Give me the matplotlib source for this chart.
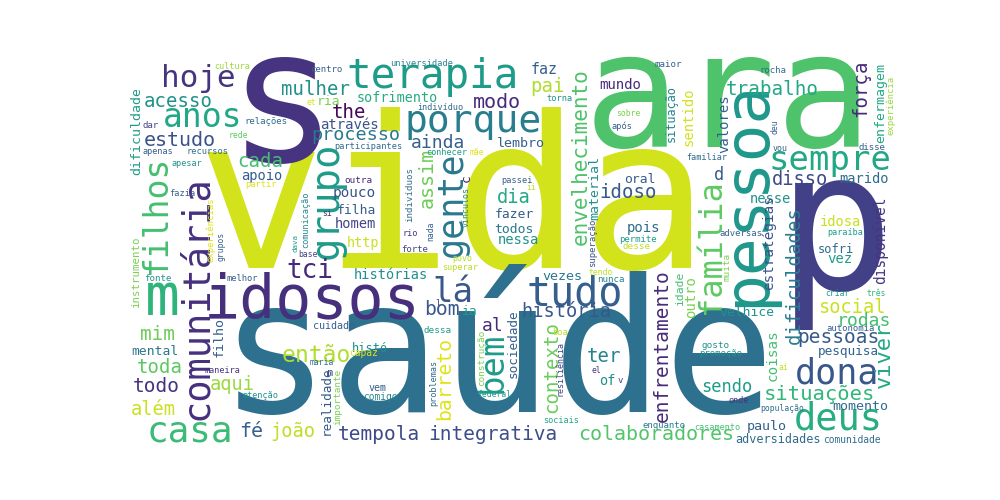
import matplotlib
matplotlib.use("Agg")
import matplotlib.pyplot as plt

# word -> weight (font size in px of the cloud)
words = ["vida", "saúde", "s", "ara", "p", "idosos", "pessoa", "m", "terapia", "porque",
         "comunitária", "grupo", "gente", "tudo", "lá", "filhos", "casa", "dona", "deus", "sempre",
         "família", "bem", "anos", "hoje", "tci", "então", "envelhecimento", "situações",
         "colaboradores", "integrativa", "tempola", "dificuldades", "enfrentamento", "contexto",
         "barreto", "trabalho", "idoso", "pessoas", "estudo", "mulher", "acesso", "the",
         "processo", "cada", "pai", "modo", "ainda", "dia", "disso", "força", "social", "rodas",
         "história", "bom", "al", "ter", "mim", "toda", "todo", "além", "aqui", "fé", "joão",
         "sendo", "viver",
         "assim", "lembro", "sofrimento", "através", "apoio", "pouco", "filha", "homem", "http",
         "histórias", "fazer", "todos", "nessa", "vezes", "faz", "mundo", "dificuldade",
         "instrumento", "mental", "filho", "realidade", "ria", "histó", "n", "ia", "sociedade",
         "oral", "pois", "material", "situação", "sentido", "valores", "d", "nesse",
         "estratégias", "marido", "enfermagem", "idosa", "disponível", "sofri", "vez", "idade",
         "outro", "velhice", "pesquisa", "coisas", "momento", "paulo", "adversidades", "of",
         "cuidado",
         "cultura", "centro", "et", "relações", "dar", "rede", "apenas", "recursos",
         "participantes", "apesar", "partir", "fazia", "outra", "si", "comunicação", "dava",
         "base", "experiências", "grupos", "fonte", "melhor", "maneira", "atenção", "importante",
         "maria", "capaz", "vem", "comigo", "universidade", "indivíduo", "torna", "mãe",
         "conhecer", "c", "passei", "ii", "indivíduos", "nada", "vínculos", "rio", "forte",
         "povo", "superar", "dessa", "construção", "problemas", "federal", "boa", "resiliência",
         "sociais", "el", "v", "tendo", "nunca", "superação", "sobre", "após", "maior", "rocha",
         "familiar", "deu", "vou", "disse", "experiência", "permite", "desse", "adversas",
         "muita", "paraíba", "criar", "três", "autonomia", "gosto", "promoção", "aí", "onde",
         "população", "enquanto", "casamento", "comunidade", "l"]

sizes = [213, 185, 185, 160, 195, 60, 63, 58, 41, 38,
         37, 39, 35, 40, 34, 33, 36, 35, 37, 34,
         32, 34, 33, 31, 26, 23, 21, 20.5,
         20, 19.5, 19.5, 19, 19.5, 19,
         19.7, 19.3, 19, 19.5, 20, 19, 19, 19,
         18.5, 19, 19, 20, 18, 18.8, 18.6, 19, 18.6, 18.2,
         18.6, 19.6, 18, 19, 19.4, 19, 19.5, 18.7, 18.7, 20, 18.7,
         17, 22,
         20, 13.4, 13.5, 14, 13.7, 14.4, 13, 13.7, 13.5,
         13.6, 13, 13, 13.8, 13.4, 15, 14, 13.3,
         10.7, 13, 13.4, 12.6, 13, 12, 11, 13, 12.8,
         13, 14, 13.3, 11.7, 13.9, 13.9, 17, 13.8,
         14.3, 13.7, 13.3, 13.8, 14.5, 12, 14, 11.4,
         14, 13, 12.7, 14.2, 13.4, 13.4, 11.7, 13.6,
         10,
         8.5, 9, 8, 9, 9, 8, 8.5, 8.7,
         8.7, 8.5, 8.8, 8.6, 9.3, 8, 8.5, 7.5,
         8, 9, 8, 9.2, 8.8, 8.5, 8.5, 9.3,
         8, 9.6, 10, 9.7, 8.6, 8.5, 8.6, 8,
         8.5, 13, 8.6, 8, 9.1, 8, 8.3, 8.5, 9,
         8.3, 8.5, 9.3, 9.3, 8.5, 8, 8.8, 8.4,
         8.5, 8, 9, 8, 9.2, 8.9, 8, 8.7, 9.2, 9,
         8.5, 8, 8.3, 9, 9, 9, 9.3, 8.9,
         9.3, 8.5, 8, 8, 8.9, 9.3, 9, 8, 8.5,
         8, 9, 8.5, 9.6, 9]

# placement of each word in the 1000x500 picture:
# x, y (baseline point), rotation, viridis shade
placement = {
    "vida": (453, 268, 0, .93), "saúde": (497, 412, 0, .37), "s": (282, 161, 0, .15),
    "ara": (728, 147, 0, .72), "p": (836, 290, 0, .19), "idosos": (312, 317, 0, .14),
    "pessoa": (764, 193, 90, .53), "m": (162, 315, 0, .65), "terapia": (433, 88, 0, .55),
    "porque": (473, 132, 0, .42), "comunitária": (207, 298, 90, .14),
    "grupo": (338, 200, 90, .55), "gente": (462, 204, 90, .40), "tudo": (575, 306, 0, .30),
    "lá": (453, 302, 0, .27), "filhos": (166, 214, 90, .70), "casa": (190, 442, 0, .68),
    "dona": (837, 383, 0, .27), "deus": (838, 430, 0, .62), "sempre": (830, 170, 0, .60),
    "família": (720, 247, 90, .75), "bem": (502, 362, 90, .55), "anos": (203, 127, 0, .60),
    "hoje": (198, 87, 0, .15), "tci": (310, 278, 0, .12), "então": (316, 362, 0, .88),
    "envelhecimento": (587, 157, 90, .72), "situações": (819, 400, 0, .66),
    "colaboradores": (656, 440, 0, .73), "integrativa": (493, 440, 0, .24),
    "tempola": (379, 440, 0, .22), "dificuldades": (800, 275, 90, .42),
    "enfrentamento": (668, 346, 90, .12), "contexto": (557, 367, 90, .77),
    "barreto": (450, 378, 90, .95), "trabalho": (772, 95, 0, .60), "idoso": (628, 198, 0, .28),
    "pessoas": (838, 343, 0, .28), "estudo": (180, 146, 0, .25), "mulher": (316, 95, 0, .50),
    "acesso": (178, 107, 0, .50), "the": (349, 118, 0, .02), "processo": (356, 140, 0, .40),
    "cada": (260, 167, 0, .70), "pai": (547, 92, 0, .88), "modo": (497, 108, 0, .12),
    "ainda": (438, 148, 0, .30), "dia": (514, 203, 0, .60), "disso": (800, 185, 0, .22),
    "força": (866, 88, 90, .12), "social": (852, 313, 0, .92), "rodas": (864, 326, 0, .70),
    "história": (566, 317, 0, .27), "bom": (442, 315, 0, .27), "al": (493, 331, 0, .12),
    "ter": (604, 362, 0, .45), "mim": (157, 340, 0, .78), "toda": (160, 373, 0, .75),
    "todo": (156, 392, 0, .15), "além": (153, 415, 0, .92), "aqui": (232, 390, 0, .85),
    "fé": (251, 437, 0, .30), "joão": (293, 437, 0, .90), "sendo": (727, 392, 0, .55),
    "viver": (890, 355, 90, .60),
    "assim": (433, 178, 90, .78), "lembro": (521, 147, 0, .30), "sofrimento": (397, 102, 0, .62),
    "através": (349, 129, 0, .25), "apoio": (262, 180, 0, .30), "pouco": (354, 197, 0, .25),
    "filha": (356, 214, 0, .30), "homem": (355, 228, 0, .20), "http": (363, 247, 0, .92),
    "histórias": (391, 279, 0, .50), "fazer": (514, 218, 0, .30), "todos": (514, 233, 0, .40),
    "nessa": (518, 244, 0, .50), "vezes": (562, 280, 0, .40), "faz": (544, 74, 0, .30),
    "mundo": (620, 89, 0, .12), "dificuldade": (140, 131, 90, .55),
    "instrumento": (139, 272, 90, .80), "mental": (155, 355, 0, .40), "filho": (223, 337, 90, .30),
    "realidade": (330, 401, 90, .28), "ria": (329, 105, 0, .80), "histó": (370, 352, 0, .50),
    "n": (330, 376, 0, .25), "ia": (470, 315, 0, .55), "sociedade": (517, 344, 90, .30),
    "oral": (640, 183, 0, .30), "pois": (644, 232, 0, .35), "material": (598, 188, 90, .50),
    "situação": (675, 114, 90, .45), "sentido": (693, 117, 90, .93), "valores": (728, 124, 90, .30),
    "d": (719, 180, 0, .28), "nesse": (770, 203, 0, .50), "estratégias": (773, 243, 90, .25),
    "marido": (864, 183, 0, .35), "enfermagem": (884, 103, 90, .60), "idosa": (840, 226, 0, .92),
    "disponível": (885, 240, 90, .15), "sofri": (836, 253, 0, .35), "vez": (840, 263, 0, .55),
    "idade": (683, 289, 90, .70), "outro": (695, 297, 90, .80), "velhice": (747, 316, 0, .50),
    "pesquisa": (848, 355, 0, .32), "coisas": (777, 355, 90, .70), "momento": (860, 410, 0, .35),
    "paulo": (767, 430, 0, .30), "adversidades": (778, 443, 0, .35), "of": (607, 385, 0, .50),
    "cuidado": (334, 329, 0, .30),
    "cultura": (232, 69, 0, .85), "centro": (326, 72, 0, .30), "et": (311, 105, 0, .95),
    "relações": (266, 124, 0, .35), "dar": (151, 128, 0, .20), "rede": (238, 138, 0, .75),
    "apenas": (158, 154, 0, .30), "recursos": (208, 154, 0, .35),
    "participantes": (368, 149, 0, .35), "apesar": (187, 166, 0, .50), "partir": (261, 187, 0, .95),
    "fazia": (182, 196, 0, .30), "outra": (358, 183, 0, .10), "si": (327, 216, 0, .15),
    "comunicação": (308, 220, 90, .45), "dava": (298, 243, 90, .55), "base": (308, 257, 0, .20),
    "experiências": (214, 230, 90, .95), "grupos": (224, 246, 90, .30), "fonte": (158, 281, 0, .50),
    "melhor": (242, 281, 0, .30), "maneira": (222, 373, 0, .15), "atenção": (260, 398, 0, .50),
    "importante": (340, 397, 90, .80), "maria": (322, 365, 0, .35), "capaz": (364, 356, 0, .95),
    "vem": (378, 391, 0, .30), "comigo": (380, 400, 0, .45), "universidade": (422, 66, 0, .45),
    "indivíduo": (440, 110, 0, .35), "torna": (560, 101, 0, .50), "mãe": (477, 155, 0, .95),
    "conhecer": (447, 155, 0, .55), "c": (470, 178, 90, .10), "passei": (517, 183, 0, .30),
    "ii": (531, 190, 0, .90), "indivíduos": (412, 195, 90, .35), "nada": (433, 231, 90, .30),
    "vínculos": (469, 207, 90, .45), "rio": (410, 236, 0, .15), "forte": (415, 252, 0, .20),
    "povo": (462, 261, 0, .88), "superar": (460, 270, 0, .90), "dessa": (438, 333, 0, .55),
    "construção": (484, 358, 90, .80), "problemas": (436, 383, 90, .35),
    "federal": (494, 397, 0, .55), "boa": (560, 335, 0, .90), "resiliência": (562, 368, 90, .20),
    "sociais": (561, 423, 0, .60), "el": (596, 373, 0, .15), "v": (620, 383, 0, .20),
    "tendo": (601, 275, 0, .90), "nunca": (611, 282, 0, .45), "superação": (595, 243, 90, .25),
    "sobre": (628, 116, 0, .80), "após": (622, 129, 0, .30), "maior": (668, 67, 0, .30),
    "rocha": (773, 73, 0, .35), "familiar": (707, 160, 0, .35), "deu": (777, 127, 90, .30),
    "vou": (780, 151, 0, .30), "disse": (872, 150, 0, .30), "experiência": (893, 105, 90, .85),
    "permite": (638, 242, 0, .55), "desse": (637, 249, 0, .90), "adversas": (741, 236, 0, .30),
    "muita": (729, 267, 90, .80), "paraíba": (845, 235, 0, .55), "criar": (837, 296, 0, .55),
    "três": (876, 296, 0, .65), "autonomia": (851, 331, 0, .30), "gosto": (716, 348, 0, .50),
    "promoção": (721, 356, 0, .50), "aí": (783, 370, 0, .90), "onde": (739, 403, 0, .15),
    "população": (782, 411, 0, .35), "enquanto": (664, 428, 0, .40),
    "casamento": (717, 430, 0, .70), "comunidade": (852, 443, 0, .35), "l": (438, 306, 0, .20),
}

cmap = plt.get_cmap("viridis")

fig = plt.figure(figsize=(10, 5), dpi=100)
ax = fig.add_axes([0, 0, 1, 1])
ax.set_xlim(0, 1000)
ax.set_ylim(500, 0)
ax.axis("off")

for w, sz in zip(words, sizes):
    x, y, rot, shade = placement[w]
    ax.text(x, y, w, fontsize=sz * 0.72, family="DejaVu Sans Mono",
            color=cmap(shade), ha="center", va="baseline",
            rotation=rot, rotation_mode="anchor")

fig.savefig("out.png", dpi=100, facecolor="white")
